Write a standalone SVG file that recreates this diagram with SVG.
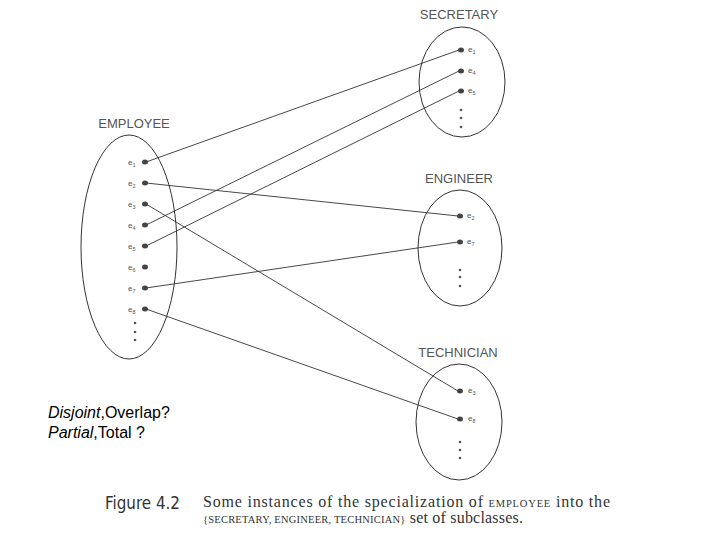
<svg xmlns="http://www.w3.org/2000/svg" width="720" height="540" viewBox="0 0 720 540">
<style>
.set{fill:none;stroke:#333;stroke-width:1}
.ttl{font-family:"Liberation Sans",Arial,sans-serif;font-size:13px;fill:#555;text-anchor:middle}
.lbl{font-family:"Liberation Sans",Arial,sans-serif;font-size:8px;fill:#555}
.sub{font-size:5.5px}
.dot{fill:#444}
.sd{fill:#555}
.cn{stroke:#333;stroke-width:0.9;fill:none}
.q{font-family:"Liberation Sans",Arial,sans-serif;font-size:16px;fill:#000}
.cap{font-family:"Liberation Serif","Times New Roman",serif;font-size:16px;fill:#333}
.sc{font-size:10.5px}
.fig{font-family:"DejaVu Sans Condensed","DejaVu Sans",sans-serif;font-size:17px;fill:#333}
</style>
<rect width="720" height="540" fill="#fff"/>
<g id="connectors">
<line class="cn" x1="146" y1="162" x2="459" y2="50"/>
<line class="cn" x1="146" y1="183" x2="458" y2="216"/>
<line class="cn" x1="146" y1="204" x2="458" y2="391"/>
<line class="cn" x1="146" y1="225" x2="459" y2="71"/>
<line class="cn" x1="146" y1="246" x2="459" y2="91"/>
<line class="cn" x1="146" y1="288" x2="458" y2="242"/>
<line class="cn" x1="146" y1="309" x2="458" y2="419"/>
</g>
<g id="employee">
<ellipse class="set" cx="129" cy="247" rx="48" ry="112"/>
<text class="ttl" x="134" y="128">EMPLOYEE</text>
<g class="lbl">
<text x="128" y="165">e<tspan class="sub" dy="2">1</tspan></text>
<text x="128" y="186">e<tspan class="sub" dy="2">2</tspan></text>
<text x="128" y="207">e<tspan class="sub" dy="2">3</tspan></text>
<text x="128" y="228">e<tspan class="sub" dy="2">4</tspan></text>
<text x="128" y="249">e<tspan class="sub" dy="2">5</tspan></text>
<text x="128" y="270">e<tspan class="sub" dy="2">6</tspan></text>
<text x="128" y="291">e<tspan class="sub" dy="2">7</tspan></text>
<text x="128" y="312">e<tspan class="sub" dy="2">8</tspan></text>
</g>
<ellipse class="dot" cx="145" cy="162" rx="3" ry="2.5"/>
<ellipse class="dot" cx="145" cy="183" rx="3" ry="2.5"/>
<ellipse class="dot" cx="145" cy="204" rx="3" ry="2.5"/>
<ellipse class="dot" cx="145" cy="225" rx="3" ry="2.5"/>
<ellipse class="dot" cx="145" cy="246" rx="3" ry="2.5"/>
<ellipse class="dot" cx="145" cy="267" rx="3" ry="2.5"/>
<ellipse class="dot" cx="145" cy="288" rx="3" ry="2.5"/>
<ellipse class="dot" cx="145" cy="309" rx="3" ry="2.5"/>
<circle class="sd" cx="135" cy="323" r="1.3"/>
<circle class="sd" cx="135" cy="332" r="1.3"/>
<circle class="sd" cx="135" cy="340" r="1.3"/>
</g>
<g id="secretary">
<ellipse class="set" cx="462" cy="82" rx="43" ry="55"/>
<text class="ttl" x="459" y="19">SECRETARY</text>
<ellipse class="dot" cx="461" cy="50" rx="3" ry="2.5"/>
<ellipse class="dot" cx="461" cy="71" rx="3" ry="2.5"/>
<ellipse class="dot" cx="461" cy="91" rx="3" ry="2.5"/>
<g class="lbl">
<text x="468" y="52">e<tspan class="sub" dy="2">1</tspan></text>
<text x="468" y="73">e<tspan class="sub" dy="2">4</tspan></text>
<text x="468" y="93">e<tspan class="sub" dy="2">5</tspan></text>
</g>
<circle class="sd" cx="461" cy="110" r="1.3"/>
<circle class="sd" cx="461" cy="118" r="1.3"/>
<circle class="sd" cx="461" cy="127" r="1.3"/>
</g>
<g id="engineer">
<ellipse class="set" cx="460" cy="248" rx="42" ry="58"/>
<text class="ttl" x="459" y="183">ENGINEER</text>
<ellipse class="dot" cx="460" cy="216" rx="3" ry="2.5"/>
<ellipse class="dot" cx="460" cy="242" rx="3" ry="2.5"/>
<g class="lbl">
<text x="467" y="218">e<tspan class="sub" dy="2">2</tspan></text>
<text x="467" y="244">e<tspan class="sub" dy="2">7</tspan></text>
</g>
<circle class="sd" cx="460" cy="270" r="1.3"/>
<circle class="sd" cx="460" cy="277" r="1.3"/>
<circle class="sd" cx="460" cy="286" r="1.3"/>
</g>
<g id="technician">
<ellipse class="set" cx="459" cy="422" rx="43" ry="58"/>
<text class="ttl" x="458" y="357">TECHNICIAN</text>
<ellipse class="dot" cx="460" cy="391" rx="3" ry="2.5"/>
<ellipse class="dot" cx="460" cy="419" rx="3" ry="2.5"/>
<g class="lbl">
<text x="468" y="393">e<tspan class="sub" dy="2">3</tspan></text>
<text x="468" y="421">e<tspan class="sub" dy="2">8</tspan></text>
</g>
<circle class="sd" cx="460" cy="442" r="1.3"/>
<circle class="sd" cx="460" cy="450" r="1.3"/>
<circle class="sd" cx="460" cy="458" r="1.3"/>
</g>
<g id="question">
<text class="q" x="48" y="418"><tspan font-style="italic">Disjoint</tspan>,Overlap?</text>
<text class="q" x="48" y="438"><tspan font-style="italic">Partial</tspan>,Total ?</text>
</g>
<g id="caption">
<text class="fig" x="105" y="509" textLength="75" lengthAdjust="spacingAndGlyphs">Figure 4.2</text>
<text class="cap" x="203" y="507" textLength="407">Some instances of the specialization of <tspan class="sc">EMPLOYEE</tspan> into the</text>
<text class="cap" x="203" y="523" textLength="320"><tspan class="sc">{SECRETARY, ENGINEER, TECHNICIAN}</tspan> set of subclasses.</text>
</g>
</svg>
